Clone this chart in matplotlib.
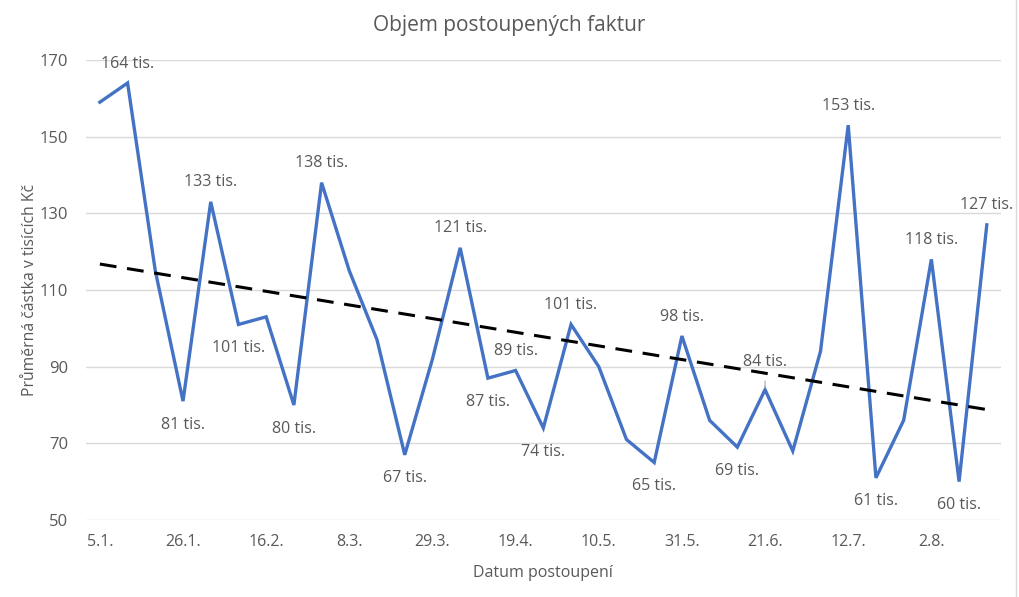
import numpy as np
import matplotlib
matplotlib.use("Agg")
import matplotlib.pyplot as plt

# weekly assignment dates (2020)
dates = ["5.1.", "12.1.", "19.1.", "26.1.", "2.2.", "9.2.", "16.2.", "23.2.",
         "1.3.", "8.3.", "15.3.", "22.3.", "29.3.", "5.4.", "12.4.", "19.4.",
         "26.4.", "3.5.", "10.5.", "17.5.", "24.5.", "31.5.", "7.6.", "14.6.",
         "21.6.", "28.6.", "5.7.", "12.7.", "19.7.", "26.7.", "2.8.", "9.8.", "16.8."]
# average amount in thousands CZK
values = [159, 164, 115, 81, 133, 101, 103, 80, 138, 115, 97, 67, 92, 121, 87, 89,
          74, 101, 90, 71, 65, 98, 76, 69, 84, 68, 94, 153, 61, 76, 118, 60, 127]
# which points carry a data label and where ('a' above, 'b' below)
label_pos = {1: "a", 3: "b", 4: "a", 5: "b", 7: "b", 8: "a", 11: "b", 13: "a",
             14: "b", 15: "a", 16: "b", 17: "a", 20: "b", 21: "a", 23: "b", 24: "lead",
             27: "a", 28: "b", 30: "a", 31: "b", 32: "a"}

plt.rcParams["font.family"] = ["Open Sans", "DejaVu Sans"]
gray = "#595959"
blue = "#4472C4"

fig = plt.figure(figsize=(10.19, 5.97), dpi=100)
ax = fig.add_axes([0.0844, 0.129, 0.8976, 0.7705])

x = np.arange(len(values))
ax.plot(x, values, color=blue, lw=2.4, solid_joinstyle="miter", zorder=3)

# linear trend line
k, q = np.polyfit(x, values, 1)
ax.plot(x, k * x + q, color="black", lw=2.2, ls=(0, (5.5, 3.5)), zorder=4)

lab_kw = dict(textcoords="offset points", ha="center", va="center",
              fontsize=11.5, color=gray)
for i, pos in label_pos.items():
    txt = f"{values[i]} tis."
    if pos == "a":
        ax.annotate(txt, (i, values[i]), xytext=(0, 14), **lab_kw)
    elif pos == "b":
        ax.annotate(txt, (i, values[i]), xytext=(0, -17), **lab_kw)
    else:
        ax.annotate(txt, (i, values[i]), xytext=(0, 20), **lab_kw,
                    arrowprops=dict(arrowstyle="-", color="#a6a6a6", lw=0.8,
                                    shrinkA=6, shrinkB=1))

ax.set_xlim(-0.5, len(values) - 0.5)
ax.set_ylim(50, 170)
ax.set_yticks(np.arange(50, 171, 20))
ax.set_xticks(x[::3])
ax.set_xticklabels(dates[::3])
ax.grid(axis="y", color="#d9d9d9", lw=1)
ax.set_axisbelow(True)
for s in ax.spines.values():
    s.set_visible(False)
ax.tick_params(length=0, labelsize=11.5, colors=gray)
ax.tick_params(axis="x", pad=10)
ax.tick_params(axis="y", pad=13, labelsize=12)

ax.set_xlabel("Datum postoupení", fontsize=11.5, color=gray, labelpad=11)
ax.set_ylabel("Průměrná částka v tisících Kč", fontsize=11.3, color=gray)
ax.yaxis.set_label_coords(-0.053, 0.5)
fig.suptitle("Objem postoupených faktur", fontsize=15, color=gray, y=0.975)

# spreadsheet border at the right edge
fig.add_artist(plt.Line2D([0.997, 0.997], [0, 1], color="#d9d9d9", lw=1))

fig.savefig("out.png", dpi=100)
